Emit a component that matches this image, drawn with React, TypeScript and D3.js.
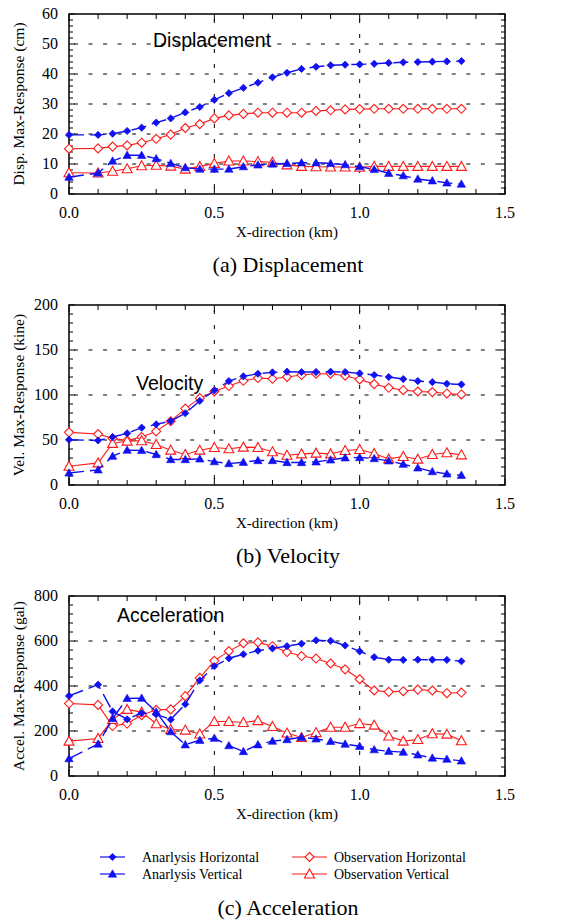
import { useEffect } from 'react';
import * as d3 from 'd3';

// distance along X-direction (km)
const xKm = [0, 0.1, 0.15, 0.2, 0.25, 0.3, 0.35, 0.4, 0.45, 0.5, 0.55, 0.6, 0.65, 0.7,
    0.75, 0.8, 0.85, 0.9, 0.95, 1.0, 1.05, 1.1, 1.15, 1.2, 1.25, 1.3, 1.35];

// (a) Displacement (cm)
const dispAnaH = [19.7, 19.7, 20.1, 21, 22.1, 23.8, 25.2, 27.2, 29, 31.4, 33.6, 35.4, 37.1, 38.9,
    40.4, 41.7, 42.4, 42.9, 43.1, 43.2, 43.4, 43.7, 43.9, 44, 44.1, 44.2, 44.3];
const dispAnaV = [5.6, 7, 11, 12.9, 12.9, 11.8, 10.2, 8.8, 8.3, 8.3, 8.3, 9.1, 9.7, 10,
    10.2, 10.4, 10.4, 10.2, 9.8, 9.1, 8.2, 6.9, 6.1, 5, 4.4, 3.7, 3.3];
const dispObsH = [15.1, 15.2, 15.8, 16.2, 17.1, 18.4, 19.8, 22, 23.3, 25.2, 26.2, 26.7, 27.1, 27.1,
    27.1, 27.1, 27.7, 27.9, 28.2, 28.3, 28.4, 28.4, 28.4, 28.4, 28.4, 28.4, 28.4];
const dispObsV = [7.1, 7, 7.6, 8.4, 9.4, 9.6, 9.3, 8.3, 9.2, 10.2, 11, 11, 10.8, 10.6,
    9.7, 9.2, 9.1, 9, 9, 8.9, 9.2, 9.2, 9.2, 9.2, 9.2, 9.2, 9.2];

// (b) Velocity (kine)
const velAnaH = [50.3, 49.5, 53.3, 57.4, 63.7, 67.4, 71, 79.7, 93.5, 105, 115.5, 120.7, 123.6, 125.1,
    125.9, 125.5, 125.5, 125.9, 125.5, 124, 122.2, 120, 117.7, 115.5, 114.3, 112.5, 111.7];
const velAnaV = [13.4, 16.8, 32, 38.7, 38.4, 33.9, 28.3, 28.3, 29, 26, 23.8, 25.3, 27.2, 27.2,
    25, 25, 25.7, 27.9, 30.2, 30.5, 29.4, 26.8, 23.1, 19, 14.9, 12.3, 10.8];
const velObsH = [58.5, 56.6, 51.8, 49.5, 53.3, 59.6, 70.8, 84.9, 96.5, 103.9, 109.9, 115.8, 118.8, 118,
    120, 122.2, 123.6, 123.6, 121.4, 117.3, 112.1, 108, 105.4, 103.9, 103.2, 101.7, 100.6];
const velObsV = [20.9, 24.6, 46.2, 48.8, 49.2, 45, 38.7, 33.9, 38.7, 41.7, 40.2, 42.1, 41.7, 36.9,
    33.1, 34.6, 35.4, 34.6, 38.4, 39.5, 35, 29, 31.7, 28.7, 33.9, 35.8, 33.5];

// (c) Acceleration (gal)
const accAnaH = [356, 406, 287, 252, 280, 274, 251, 319, 425, 488, 523, 541, 557, 567,
    577, 588, 603, 601, 580, 554, 528, 517, 516, 517, 517, 516, 510];
const accAnaV = [77, 142, 255, 345, 346, 285, 197, 139, 159, 168, 135, 109, 139, 155,
    162, 172, 165, 154, 142, 132, 117, 110, 106, 94, 80, 75, 67];
const accObsH = [322, 316, 222, 233, 270, 294, 296, 355, 436, 512, 555, 590, 594, 577,
    551, 533, 522, 500, 474, 430, 380, 374, 377, 384, 380, 368, 371];
const accObsV = [155, 167, 251, 296, 284, 232, 207, 204, 187, 242, 242, 238, 246, 220,
    191, 171, 193, 217, 217, 233, 226, 178, 155, 162, 188, 186, 157];

const seriesNames = ['Anarlysis Horizontal', 'Anarlysis Vertical', 'Observation Horizontal', 'Observation Vertical'];

const panels = [
    { top: 14, yMax: 60, yStep: 10, yMinor: 2, yTitle: 'Disp. Max-Response (cm)', label: 'Displacement', labelX: 153, labelY: 47, caption: '(a) Displacement', data: [dispAnaH, dispAnaV, dispObsH, dispObsV] },
    { top: 305, yMax: 200, yStep: 50, yMinor: 10, yTitle: 'Vel. Max-Response (kine)', label: 'Velocity', labelX: 136, labelY: 390, caption: '(b) Velocity', data: [velAnaH, velAnaV, velObsH, velObsV] },
    { top: 596, yMax: 800, yStep: 200, yMinor: 40, yTitle: 'Accel. Max-Response (gal)', label: 'Acceleration', labelX: 117, labelY: 622, caption: '(c) Acceleration', data: [accAnaH, accAnaV, accObsH, accObsV] },
];

const BLUE = '#1010f0';
const RED = '#ff1a1a';
const SERIF = '"Liberation Serif", "Times New Roman", serif';
const SANS = '"Liberation Sans", Arial, sans-serif';
const plotH = 180;
const left = 69, right = 505;

const x = d3.scaleLinear().domain([0, 1.5]).range([left, right]);

function Marker({ kind, cx, cy }: { kind: number; cx: number; cy: number }) {
    if (kind === 0) {
        const s = 3.6;
        return <path d={`M${cx},${cy - s}L${cx + s},${cy}L${cx},${cy + s}L${cx - s},${cy}Z`} fill={BLUE} stroke={BLUE} strokeWidth={0.8} />;
    }
    if (kind === 1) {
        const s = 4.2;
        return <path d={`M${cx},${cy - s}L${cx + s},${cy + s * 0.75}L${cx - s},${cy + s * 0.75}Z`} fill={BLUE} stroke={BLUE} strokeWidth={0.6} />;
    }
    if (kind === 2) {
        const s = 4.5;
        return <path d={`M${cx},${cy - s}L${cx + s},${cy}L${cx},${cy + s}L${cx - s},${cy}Z`} fill="white" stroke={RED} strokeWidth={1.1} />;
    }
    const s = 5;
    return <path d={`M${cx},${cy - s}L${cx + s},${cy + s * 0.8}L${cx - s},${cy + s * 0.8}Z`} fill="white" stroke={RED} strokeWidth={1.1} />;
}

function Panel({ p }: { p: typeof panels[number] }) {
    const bottom = p.top + plotH;
    const y = d3.scaleLinear().domain([0, p.yMax]).range([bottom, p.top]);
    const yMajor = d3.range(0, p.yMax + 1e-9, p.yStep);
    const yMinorTicks = d3.range(0, p.yMax + 1e-9, p.yMinor);
    const xMinorTicks = d3.range(0, 1.5 + 1e-9, 0.1);
    const xMajor = [0, 0.5, 1.0, 1.5];
    const line = d3.line<number>().x((_, i) => x(xKm[i])).y(d => y(d));
    // draw order: red underneath, blue on top
    const order = [2, 3, 0, 1];
    return (
        <g>
            {/* grid */}
            {yMajor.slice(1, -1).map(v => (
                <line key={'gy' + v} x1={left} x2={right} y1={y(v)} y2={y(v)} stroke="#000" strokeWidth={1} strokeDasharray="4,10.53" strokeDashoffset={-5} />
            ))}
            {[0.5, 1.0].map(v => (
                <line key={'gx' + v} x1={x(v)} x2={x(v)} y1={p.top} y2={bottom} stroke="#000" strokeWidth={1} strokeDasharray="4,11" strokeDashoffset={-5} />
            ))}
            {/* ticks */}
            {yMinorTicks.map(v => {
                const len = yMajor.some(m => Math.abs(m - v) < 1e-9) ? 6 : 4;
                return (
                    <g key={'ty' + v}>
                        <line x1={left} x2={left + len} y1={y(v)} y2={y(v)} stroke="#000" strokeWidth={1} />
                        <line x1={right} x2={right - len} y1={y(v)} y2={y(v)} stroke="#000" strokeWidth={1} />
                    </g>
                );
            })}
            {xMinorTicks.map(v => {
                const len = xMajor.some(m => Math.abs(m - v) < 1e-9) ? 7 : 5;
                return (
                    <g key={'tx' + v}>
                        <line x1={x(v)} x2={x(v)} y1={bottom} y2={bottom - len} stroke="#000" strokeWidth={1} />
                        <line x1={x(v)} x2={x(v)} y1={p.top} y2={p.top + len} stroke="#000" strokeWidth={1} />
                    </g>
                );
            })}
            <rect x={left} y={p.top} width={right - left} height={plotH} fill="none" stroke="#000" strokeWidth={1.5} />
            {/* tick labels */}
            {yMajor.map(v => (
                <text key={'ly' + v} x={58} y={y(v) + 5} textAnchor="end" fontFamily={SERIF} fontSize={16}>{v}</text>
            ))}
            {xMajor.map(v => (
                <text key={'lx' + v} x={x(v)} y={bottom + 24} textAnchor="middle" fontFamily={SERIF} fontSize={16}>{v.toFixed(1)}</text>
            ))}
            <text x={(left + right) / 2} y={bottom + 43} textAnchor="middle" fontFamily={SERIF} fontSize={15}>X-direction (km)</text>
            <text transform={`translate(24,${p.top + plotH / 2}) rotate(-90)`} textAnchor="middle" fontFamily={SERIF} fontSize={15.5}>{p.yTitle}</text>
            <text x={p.labelX} y={p.labelY} fontFamily={SANS} fontSize={19.5}>{p.label}</text>
            {/* series */}
            {order.map(k => (
                <g key={'s' + k}>
                    <path d={line(p.data[k]) || ''} fill="none" stroke={k < 2 ? BLUE : RED} strokeWidth={k < 2 ? 1.4 : 1.1}
                        strokeDasharray={k < 2 ? '15,6' : undefined} />
                    {p.data[k].map((v, i) => <Marker key={i} kind={k} cx={x(xKm[i])} cy={y(v)} />)}
                </g>
            ))}
        </g>
    );
}

export default function App() {
    useEffect(() => {
        document.body.style.margin = '0';
    }, []);

    const legendRows = [857, 874];
    const legendCols = [{ x1: 100, x2: 125, tx: 142 }, { x1: 292, x2: 327, tx: 334 }];

    return (
        <svg width={576} height={922} style={{ display: 'block', background: '#fff' }}>
            {panels.map((p, i) => <Panel key={i} p={p} />)}
            {/* captions */}
            <text x={288} y={272} textAnchor="middle" fontFamily={SERIF} fontSize={22}>{panels[0].caption}</text>
            <text x={288} y={563} textAnchor="middle" fontFamily={SERIF} fontSize={22}>{panels[1].caption}</text>
            <text x={288} y={915} textAnchor="middle" fontFamily={SERIF} fontSize={22}>{panels[2].caption}</text>
            {/* legend */}
            {seriesNames.map((name, k) => {
                const col = legendCols[k < 2 ? 0 : 1];
                const ry = legendRows[k % 2];
                return (
                    <g key={name}>
                        <line x1={col.x1} x2={col.x2} y1={ry} y2={ry} stroke={k < 2 ? BLUE : RED} strokeWidth={1.2} />
                        <Marker kind={k} cx={(col.x1 + col.x2) / 2} cy={ry} />
                        <text x={col.tx} y={ry + 5} fontFamily={SERIF} fontSize={14}>{name}</text>
                    </g>
                );
            })}
        </svg>
    );
}
